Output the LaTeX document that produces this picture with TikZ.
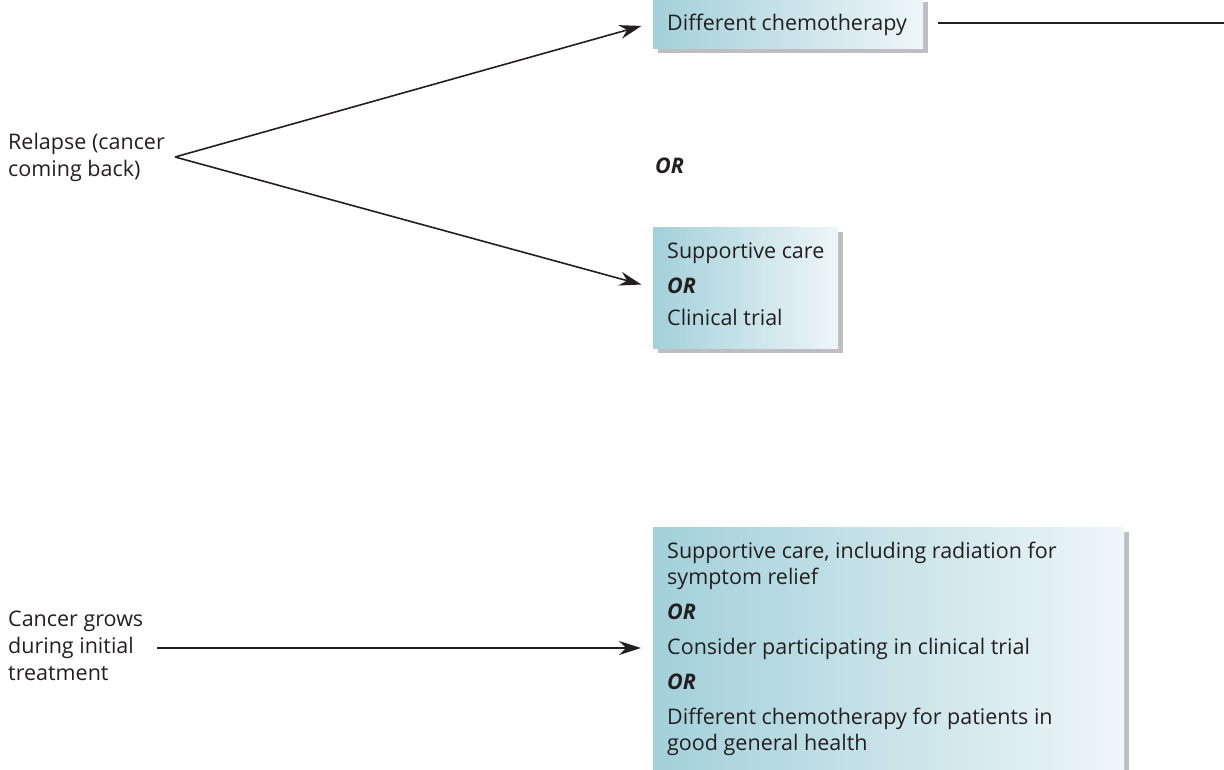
\documentclass[tikz,border=0pt]{standalone}
\usepackage{fontspec}
\setmainfont{Open Sans}
\usetikzlibrary{arrows.meta,shadows}

\definecolor{ink}{HTML}{231F20}
\definecolor{tealL}{HTML}{A3D0DA}
\definecolor{tealR}{HTML}{EEF6F8}
\definecolor{shadowgray}{HTML}{BDBDC2}

\tikzset{
  card/.style={draw=none, anchor=north west, inner sep=0pt,
    left color=tealL, right color=tealR,
    drop shadow={shadow xshift=5pt, shadow yshift=-5pt, fill=shadowgray, opacity=1}},
  txt/.style={anchor=base west, inner sep=0pt, text=ink, font=\fontsize{21.5}{26}\selectfont},
  ortxt/.style={txt, font=\fontsize{21.5}{26}\selectfont\bfseries\itshape},
  link/.style={draw=ink, line width=1.6pt},
  arrow/.style={link, -{Stealth[length=22pt, width=14pt]}, shorten >=12pt},
}

\begin{document}
\begin{tikzpicture}[x=1pt, y=-1pt]
  \clip (0,0) rectangle (1224,769);

  % treatment option boxes
  \node[card, minimum width=270pt, minimum height=51pt] (b1) at (653,-3) {};
  \node[card, minimum width=185pt, minimum height=121pt] (b2) at (653,227) {};
  \node[card, minimum width=471pt, minimum height=260pt] (b3) at (653,527) {};

  % box texts
  \node[txt] (b1l1) at (667,30) {Different chemotherapy};

  \node[txt]   (b2l1) at (667,258) {Supportive care};
  \node[ortxt] (b2l2) at (667,293) {OR};
  \node[txt]   (b2l3) at (667,325) {Clinical trial};

  \node[txt]   (b3l1) at (667,558) {Supportive care, including radiation for};
  \node[txt]   (b3l2) at (667,584) {symptom relief};
  \node[ortxt] (b3l3) at (667,619) {OR};
  \node[txt]   (b3l4) at (667,654) {Consider participating in clinical trial};
  \node[ortxt] (b3l5) at (667,689) {OR};
  \node[txt]   (b3l6) at (667,724) {Different chemotherapy for patients in};
  \node[txt]   (b3l7) at (667,750) {good general health};

  % separator between the two relapse options
  \node[ortxt] (midor) at (655,173) {OR};

  % situations on the left
  \node[txt] (rel1) at (8,149) {Relapse (cancer};
  \node[txt] (rel2) at (8,176) {coming back)};
  \node[txt] (gro1) at (8,626) {Cancer grows};
  \node[txt] (gro2) at (8,653) {during initial};
  \node[txt] (gro3) at (8,680) {treatment};

  % connectors
  \coordinate (fork) at (175,157);
  \coordinate (grostart) at (157,648);
  \coordinate (edge) at (1224,0);

  \draw[arrow] (fork) -- (b1.west);
  \draw[arrow] (fork) -- (b2.west);
  \draw[arrow] (grostart) -- (b3.west |- grostart);
  \draw[link, shorten <=15pt] (b1.east) -- (b1.east -| edge);
\end{tikzpicture}
\end{document}
